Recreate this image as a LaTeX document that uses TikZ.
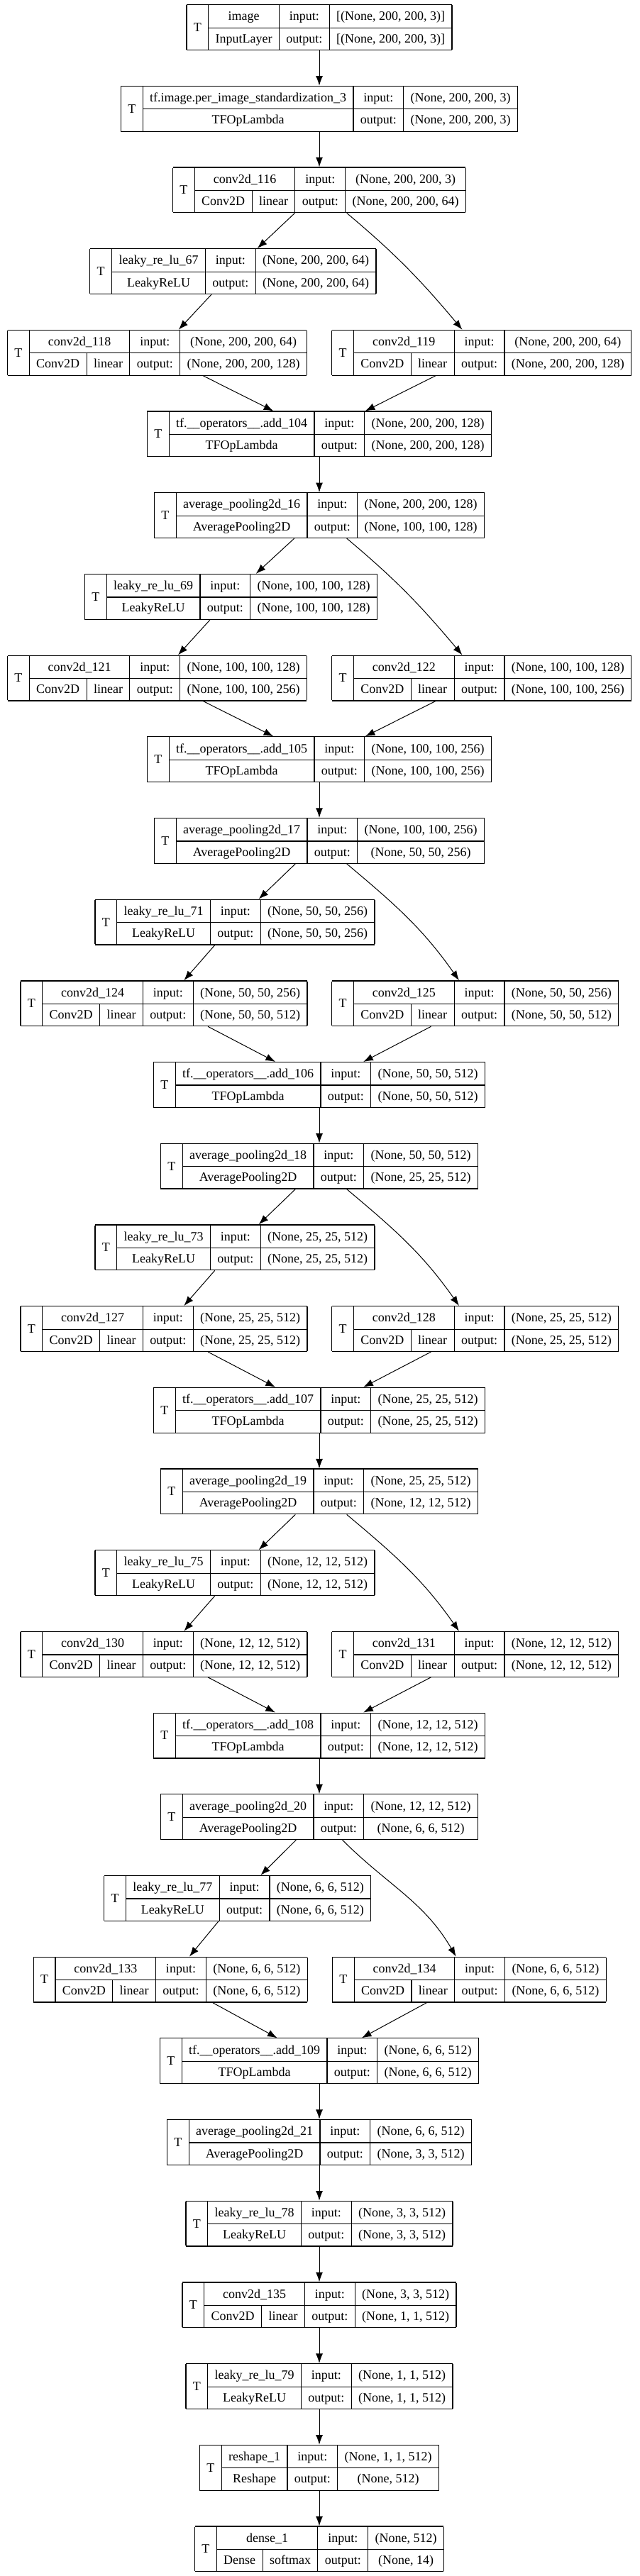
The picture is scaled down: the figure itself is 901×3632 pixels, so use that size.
\documentclass[tikz,border=0pt]{standalone}
\usepackage{fontspec}
\setmainfont{Liberation Serif}
\usetikzlibrary{arrows.meta}

\setlength{\arrayrulewidth}{0.6pt}
\setlength{\tabcolsep}{4.95pt}
\newcommand\rowstrut{\rule[-4.85pt]{0pt}{15.65pt}}
% layer box: name, class, input shape, output shape
\newcommand\layerbox[4]{\begin{tabular}{|c|c|c|c|}\hline
  \raisebox{-7.8pt}[0pt][0pt]{T} & #1 & input: & #3\rowstrut\\ \cline{2-4}
  & #2 & output: & #4\rowstrut\\ \hline
\end{tabular}}
% layer box with activation: name, class, activation, input shape, output shape
\newcommand\actbox[5]{\begin{tabular}{|c|c|c|c|c|}\hline
  \raisebox{-7.8pt}[0pt][0pt]{T} & \multicolumn{2}{c|}{#1} & input: & #4\rowstrut\\ \cline{2-5}
  & #2 & #3 & output: & #5\rowstrut\\ \hline
\end{tabular}}

\begin{document}
\begin{tikzpicture}[x=0.5pt, y=-0.5pt]
			\tikzstyle{arrow}=[draw, line width=0.5pt, -{Latex[length=6.8pt, width=5pt]}]
			\tikzstyle{layer}=[inner sep=0pt, outer sep=0pt, font=\fontsize{9pt}{11pt}\selectfont]
			\newcommand\Xmid{450}
			\newcommand\Ytop{38.5}
			\newcommand\YSpace{114.69}

			\useasboundingbox [fill=white] (0,0) rectangle (901,3632);

			% Input
			\node [layer] at (\Xmid,\Ytop) (image) {\layerbox{image}{InputLayer}{[(None, 200, 200, 3)]}{[(None, 200, 200, 3)]}};
			\node [layer] at (\Xmid,{\Ytop+1*\YSpace}) (perimg) {\layerbox{tf.image.per\_image\_standardization\_3}{TFOpLambda}{(None, 200, 200, 3)}{(None, 200, 200, 3)}};
			\node [layer] at (\Xmid,{\Ytop+2*\YSpace}) (conv116) {\actbox{conv2d\_116}{Conv2D}{linear}{(None, 200, 200, 3)}{(None, 200, 200, 64)}};

			% Block 200
			\node [layer] at (328.4,{\Ytop+3*\YSpace}) (leaky67) {\layerbox{leaky\_re\_lu\_67}{LeakyReLU}{(None, 200, 200, 64)}{(None, 200, 200, 64)}};
			\node [layer] at (221.5,{\Ytop+4*\YSpace}) (conv118) {\actbox{conv2d\_118}{Conv2D}{linear}{(None, 200, 200, 64)}{(None, 200, 200, 128)}};
			\node [layer] at (678.7,{\Ytop+4*\YSpace}) (conv119) {\actbox{conv2d\_119}{Conv2D}{linear}{(None, 200, 200, 64)}{(None, 200, 200, 128)}};
			\node [layer] at (\Xmid,{\Ytop+5*\YSpace}) (add104) {\layerbox{tf.\_\_operators\_\_.add\_104}{TFOpLambda}{(None, 200, 200, 128)}{(None, 200, 200, 128)}};
			\node [layer] at (\Xmid,{\Ytop+6*\YSpace}) (avg16) {\layerbox{average\_pooling2d\_16}{AveragePooling2D}{(None, 200, 200, 128)}{(None, 100, 100, 128)}};

			% Block 100
			\node [layer] at (325.5,{\Ytop+7*\YSpace}) (leaky69) {\layerbox{leaky\_re\_lu\_69}{LeakyReLU}{(None, 100, 100, 128)}{(None, 100, 100, 128)}};
			\node [layer] at (221.5,{\Ytop+8*\YSpace}) (conv121) {\actbox{conv2d\_121}{Conv2D}{linear}{(None, 100, 100, 128)}{(None, 100, 100, 256)}};
			\node [layer] at (678.7,{\Ytop+8*\YSpace}) (conv122) {\actbox{conv2d\_122}{Conv2D}{linear}{(None, 100, 100, 128)}{(None, 100, 100, 256)}};
			\node [layer] at (\Xmid,{\Ytop+9*\YSpace}) (add105) {\layerbox{tf.\_\_operators\_\_.add\_105}{TFOpLambda}{(None, 100, 100, 256)}{(None, 100, 100, 256)}};
			\node [layer] at (\Xmid,{\Ytop+10*\YSpace}) (avg17) {\layerbox{average\_pooling2d\_17}{AveragePooling2D}{(None, 100, 100, 256)}{(None, 50, 50, 256)}};

			% Block 50
			\node [layer] at (331,{\Ytop+11*\YSpace}) (leaky71) {\layerbox{leaky\_re\_lu\_71}{LeakyReLU}{(None, 50, 50, 256)}{(None, 50, 50, 256)}};
			\node [layer] at (231,{\Ytop+12*\YSpace}) (conv124) {\actbox{conv2d\_124}{Conv2D}{linear}{(None, 50, 50, 256)}{(None, 50, 50, 512)}};
			\node [layer] at (669.7,{\Ytop+12*\YSpace}) (conv125) {\actbox{conv2d\_125}{Conv2D}{linear}{(None, 50, 50, 256)}{(None, 50, 50, 512)}};
			\node [layer] at (\Xmid,{\Ytop+13*\YSpace}) (add106) {\layerbox{tf.\_\_operators\_\_.add\_106}{TFOpLambda}{(None, 50, 50, 512)}{(None, 50, 50, 512)}};
			\node [layer] at (\Xmid,{\Ytop+14*\YSpace}) (avg18) {\layerbox{average\_pooling2d\_18}{AveragePooling2D}{(None, 50, 50, 512)}{(None, 25, 25, 512)}};

			% Block 25
			\node [layer] at (331,{\Ytop+15*\YSpace}) (leaky73) {\layerbox{leaky\_re\_lu\_73}{LeakyReLU}{(None, 25, 25, 512)}{(None, 25, 25, 512)}};
			\node [layer] at (231,{\Ytop+16*\YSpace}) (conv127) {\actbox{conv2d\_127}{Conv2D}{linear}{(None, 25, 25, 512)}{(None, 25, 25, 512)}};
			\node [layer] at (669.7,{\Ytop+16*\YSpace}) (conv128) {\actbox{conv2d\_128}{Conv2D}{linear}{(None, 25, 25, 512)}{(None, 25, 25, 512)}};
			\node [layer] at (\Xmid,{\Ytop+17*\YSpace}) (add107) {\layerbox{tf.\_\_operators\_\_.add\_107}{TFOpLambda}{(None, 25, 25, 512)}{(None, 25, 25, 512)}};
			\node [layer] at (\Xmid,{\Ytop+18*\YSpace}) (avg19) {\layerbox{average\_pooling2d\_19}{AveragePooling2D}{(None, 25, 25, 512)}{(None, 12, 12, 512)}};

			% Block 12
			\node [layer] at (331,{\Ytop+19*\YSpace}) (leaky75) {\layerbox{leaky\_re\_lu\_75}{LeakyReLU}{(None, 12, 12, 512)}{(None, 12, 12, 512)}};
			\node [layer] at (231,{\Ytop+20*\YSpace}) (conv130) {\actbox{conv2d\_130}{Conv2D}{linear}{(None, 12, 12, 512)}{(None, 12, 12, 512)}};
			\node [layer] at (669.7,{\Ytop+20*\YSpace}) (conv131) {\actbox{conv2d\_131}{Conv2D}{linear}{(None, 12, 12, 512)}{(None, 12, 12, 512)}};
			\node [layer] at (\Xmid,{\Ytop+21*\YSpace}) (add108) {\layerbox{tf.\_\_operators\_\_.add\_108}{TFOpLambda}{(None, 12, 12, 512)}{(None, 12, 12, 512)}};
			\node [layer] at (\Xmid,{\Ytop+22*\YSpace}) (avg20) {\layerbox{average\_pooling2d\_20}{AveragePooling2D}{(None, 12, 12, 512)}{(None, 6, 6, 512)}};

			% Block 6
			\node [layer] at (334.7,{\Ytop+23*\YSpace}) (leaky77) {\layerbox{leaky\_re\_lu\_77}{LeakyReLU}{(None, 6, 6, 512)}{(None, 6, 6, 512)}};
			\node [layer] at (240.2,{\Ytop+24*\YSpace}) (conv133) {\actbox{conv2d\_133}{Conv2D}{linear}{(None, 6, 6, 512)}{(None, 6, 6, 512)}};
			\node [layer] at (661.4,{\Ytop+24*\YSpace}) (conv134) {\actbox{conv2d\_134}{Conv2D}{linear}{(None, 6, 6, 512)}{(None, 6, 6, 512)}};
			\node [layer] at (\Xmid,{\Ytop+25*\YSpace}) (add109) {\layerbox{tf.\_\_operators\_\_.add\_109}{TFOpLambda}{(None, 6, 6, 512)}{(None, 6, 6, 512)}};
			\node [layer] at (\Xmid,{\Ytop+26*\YSpace}) (avg21) {\layerbox{average\_pooling2d\_21}{AveragePooling2D}{(None, 6, 6, 512)}{(None, 3, 3, 512)}};

			% Head
			\node [layer] at (\Xmid,{\Ytop+27*\YSpace}) (leaky78) {\layerbox{leaky\_re\_lu\_78}{LeakyReLU}{(None, 3, 3, 512)}{(None, 3, 3, 512)}};
			\node [layer] at (\Xmid,{\Ytop+28*\YSpace}) (conv135) {\actbox{conv2d\_135}{Conv2D}{linear}{(None, 3, 3, 512)}{(None, 1, 1, 512)}};
			\node [layer] at (\Xmid,{\Ytop+29*\YSpace}) (leaky79) {\layerbox{leaky\_re\_lu\_79}{LeakyReLU}{(None, 1, 1, 512)}{(None, 1, 1, 512)}};
			\node [layer] at (\Xmid,{\Ytop+30*\YSpace}) (reshape1) {\layerbox{reshape\_1}{Reshape}{(None, 1, 1, 512)}{(None, 512)}};
			\node [layer] at (\Xmid,{\Ytop+31*\YSpace}) (dense1) {\actbox{dense\_1}{Dense}{softmax}{(None, 512)}{(None, 14)}};

			% Path Arrows
			\path [arrow] (image) -- (perimg);
			\path [arrow] (perimg) -- (conv116);

			\path [arrow] (conv116) -- (leaky67);
			\path [arrow] (conv116) to [out=-40, in=130] (conv119);
			\path [arrow] (leaky67) -- (conv118);
			\path [arrow] (conv118) -- (add104);
			\path [arrow] (conv119) -- (add104);
			\path [arrow] (add104) -- (avg16);

			\path [arrow] (avg16) -- (leaky69);
			\path [arrow] (avg16) to [out=-40, in=130] (conv122);
			\path [arrow] (leaky69) -- (conv121);
			\path [arrow] (conv121) -- (add105);
			\path [arrow] (conv122) -- (add105);
			\path [arrow] (add105) -- (avg17);

			\path [arrow] (avg17) -- (leaky71);
			\path [arrow] (avg17) to [out=-40, in=125] (conv125);
			\path [arrow] (leaky71) -- (conv124);
			\path [arrow] (conv124) -- (add106);
			\path [arrow] (conv125) -- (add106);
			\path [arrow] (add106) -- (avg18);

			\path [arrow] (avg18) -- (leaky73);
			\path [arrow] (avg18) to [out=-40, in=125] (conv128);
			\path [arrow] (leaky73) -- (conv127);
			\path [arrow] (conv127) -- (add107);
			\path [arrow] (conv128) -- (add107);
			\path [arrow] (add107) -- (avg19);

			\path [arrow] (avg19) -- (leaky75);
			\path [arrow] (avg19) to [out=-40, in=125] (conv131);
			\path [arrow] (leaky75) -- (conv130);
			\path [arrow] (conv130) -- (add108);
			\path [arrow] (conv131) -- (add108);
			\path [arrow] (add108) -- (avg20);

			\path [arrow] (avg20) -- (leaky77);
			\path [arrow] (avg20) to [out=-45, in=120] (conv134);
			\path [arrow] (leaky77) -- (conv133);
			\path [arrow] (conv133) -- (add109);
			\path [arrow] (conv134) -- (add109);
			\path [arrow] (add109) -- (avg21);

			\path [arrow] (avg21) -- (leaky78);
			\path [arrow] (leaky78) -- (conv135);
			\path [arrow] (conv135) -- (leaky79);
			\path [arrow] (leaky79) -- (reshape1);
			\path [arrow] (reshape1) -- (dense1);

		\end{tikzpicture}
\end{document}
